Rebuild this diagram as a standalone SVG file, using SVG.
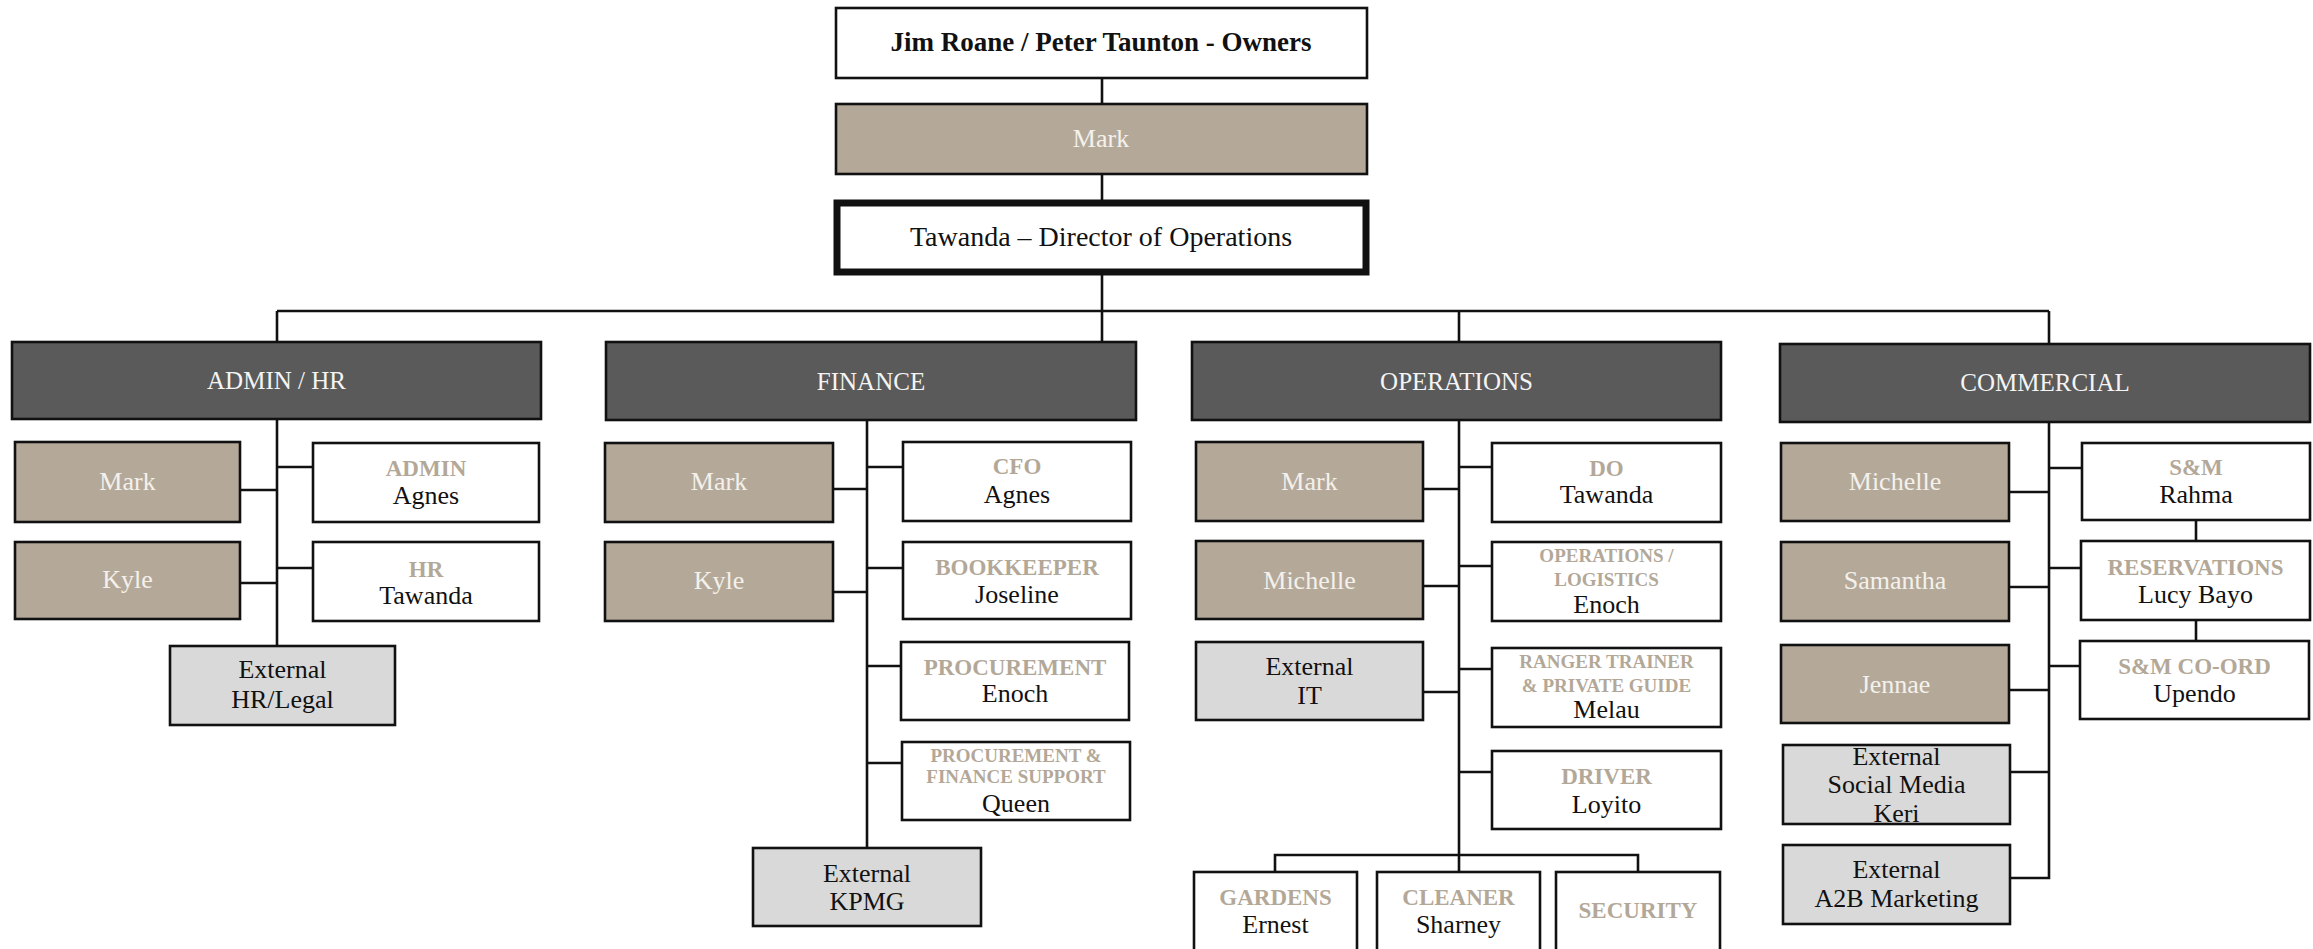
<svg xmlns="http://www.w3.org/2000/svg" width="2313" height="949" viewBox="0 0 2313 949">
<style>
text{font-family:"Liberation Serif","Times New Roman",serif;text-anchor:middle}
.box{stroke:#111;stroke-width:2.6}
.w{fill:#fff}
.tan{fill:#b4a999}
.gry{fill:#d9d9d9}
.hd{fill:#5a5a5a}
.ln{stroke:#111;stroke-width:2.6;fill:none}
.hdt{fill:#f4f4f4;font-size:25px}
.nm{fill:#111;font-size:26px}
.tn{fill:#f4f1ec;font-size:26px}
.tt{fill:#b3a898;font-size:23px;font-weight:bold}
.ts{fill:#b3a898;font-size:19px;font-weight:bold}
</style>
<rect width="2313" height="949" fill="#fff"/>
<g id="connectors" class="ln">
<path d="M1102 78V104M1102 174V203M1102 272V342"/>
<path d="M277 311H2049M277 311V342M1459 311V342M2049 311V344"/>
<path d="M277 419V646M240 490H277M240 583H277M277 467H313M277 568H313"/>
<path d="M867 420V848M833 489H867M833 592H867M867 467H903M867 568H903M867 666H901M867 763H902"/>
<path d="M1459 420V872M1423 489H1459M1423 586H1459M1423 692H1459M1459 467H1492M1459 566H1492M1459 669H1492M1459 772H1492"/>
<path d="M1275 872V855H1638V872"/>
<path d="M2049 422V878H2010M2009 492H2049M2009 587H2049M2009 690H2049M2010 772H2049M2049 468H2082M2049 568H2081M2049 666H2080M2196 520V541M2196 620V641"/>
</g>
<g id="owners"><rect class="box w" x="836" y="8" width="531" height="70"/><text x="1101" y="51" style="font-size:27px;font-weight:bold;fill:#111">Jim Roane / Peter Taunton - Owners</text></g>
<g id="mark-top"><rect class="box tan" x="836" y="104" width="531" height="70"/><text class="tn" x="1101" y="147">Mark</text></g>
<g id="director"><rect x="837" y="203" width="529" height="69" fill="#fff" stroke="#111" stroke-width="7"/><text x="1101" y="246" style="font-size:28px;fill:#111">Tawanda – Director of Operations</text></g>

<g id="admin-hr"><rect class="box hd" x="12" y="342" width="529" height="77"/><text class="hdt" x="276.5" y="389">ADMIN / HR</text></g>
<g id="admin-mark"><rect class="box tan" x="15" y="442" width="225" height="80"/><text class="tn" x="127.5" y="490">Mark</text></g>
<g id="admin-kyle"><rect class="box tan" x="15" y="542" width="225" height="77"/><text class="tn" x="127.5" y="588">Kyle</text></g>
<g id="admin-agnes"><rect class="box w" x="313" y="443" width="226" height="79"/><text class="tt" x="426" y="476">ADMIN</text><text class="nm" x="426" y="504">Agnes</text></g>
<g id="hr-tawanda"><rect class="box w" x="313" y="542" width="226" height="79"/><text class="tt" x="426" y="577">HR</text><text class="nm" x="426" y="604">Tawanda</text></g>
<g id="ext-hr"><rect class="box gry" x="170" y="646" width="225" height="79"/><text class="nm" x="282.5" y="678">External</text><text class="nm" x="282.5" y="708">HR/Legal</text></g>

<g id="finance"><rect class="box hd" x="606" y="342" width="530" height="78"/><text class="hdt" x="871" y="390">FINANCE</text></g>
<g id="fin-mark"><rect class="box tan" x="605" y="443" width="228" height="79"/><text class="tn" x="719" y="490">Mark</text></g>
<g id="fin-kyle"><rect class="box tan" x="605" y="542" width="228" height="79"/><text class="tn" x="719" y="589">Kyle</text></g>
<g id="cfo"><rect class="box w" x="903" y="442" width="228" height="79"/><text class="tt" x="1017" y="474">CFO</text><text class="nm" x="1017" y="503">Agnes</text></g>
<g id="bookkeeper"><rect class="box w" x="903" y="542" width="228" height="77"/><text class="tt" x="1017" y="575">BOOKKEEPER</text><text class="nm" x="1017" y="603">Joseline</text></g>
<g id="procurement"><rect class="box w" x="901" y="642" width="228" height="78"/><text class="tt" x="1015" y="675">PROCUREMENT</text><text class="nm" x="1015" y="702">Enoch</text></g>
<g id="proc-fin"><rect class="box w" x="902" y="742" width="228" height="78"/><text class="ts" x="1016" y="762">PROCUREMENT &amp;</text><text class="ts" x="1016" y="783">FINANCE SUPPORT</text><text class="nm" x="1016" y="812">Queen</text></g>
<g id="ext-kpmg"><rect class="box gry" x="753" y="848" width="228" height="78"/><text class="nm" x="867" y="882">External</text><text class="nm" x="867" y="910">KPMG</text></g>

<g id="operations"><rect class="box hd" x="1192" y="342" width="529" height="78"/><text class="hdt" x="1456.5" y="390">OPERATIONS</text></g>
<g id="ops-mark"><rect class="box tan" x="1196" y="442" width="227" height="79"/><text class="tn" x="1309.5" y="490">Mark</text></g>
<g id="ops-michelle"><rect class="box tan" x="1196" y="541" width="227" height="78"/><text class="tn" x="1309.5" y="589">Michelle</text></g>
<g id="ext-it"><rect class="box gry" x="1196" y="642" width="227" height="78"/><text class="nm" x="1309.5" y="675">External</text><text class="nm" x="1309.5" y="704">IT</text></g>
<g id="do"><rect class="box w" x="1492" y="443" width="229" height="79"/><text class="tt" x="1606.5" y="476">DO</text><text class="nm" x="1606.5" y="503">Tawanda</text></g>
<g id="ops-log"><rect class="box w" x="1492" y="542" width="229" height="79"/><text class="ts" x="1606.5" y="562">OPERATIONS /</text><text class="ts" x="1606.5" y="586">LOGISTICS</text><text class="nm" x="1606.5" y="613">Enoch</text></g>
<g id="ranger"><rect class="box w" x="1492" y="648" width="229" height="79"/><text class="ts" x="1606.5" y="668">RANGER TRAINER</text><text class="ts" x="1606.5" y="692">&amp; PRIVATE GUIDE</text><text class="nm" x="1606.5" y="718">Melau</text></g>
<g id="driver"><rect class="box w" x="1492" y="751" width="229" height="78"/><text class="tt" x="1606.5" y="784">DRIVER</text><text class="nm" x="1606.5" y="813">Loyito</text></g>
<g id="gardens"><rect class="box w" x="1194" y="872" width="163" height="95"/><text class="tt" x="1275.5" y="905">GARDENS</text><text class="nm" x="1275.5" y="933">Ernest</text></g>
<g id="cleaner"><rect class="box w" x="1377" y="872" width="163" height="95"/><text class="tt" x="1458.5" y="905">CLEANER</text><text class="nm" x="1458.5" y="933">Sharney</text></g>
<g id="security"><rect class="box w" x="1556" y="872" width="164" height="95"/><text class="tt" x="1638" y="918">SECURITY</text></g>

<g id="commercial"><rect class="box hd" x="1780" y="344" width="530" height="78"/><text class="hdt" x="2045" y="391">COMMERCIAL</text></g>
<g id="com-michelle"><rect class="box tan" x="1781" y="443" width="228" height="78"/><text class="tn" x="1895" y="490">Michelle</text></g>
<g id="com-samantha"><rect class="box tan" x="1781" y="542" width="228" height="79"/><text class="tn" x="1895" y="589">Samantha</text></g>
<g id="com-jennae"><rect class="box tan" x="1781" y="645" width="228" height="78"/><text class="tn" x="1895" y="693">Jennae</text></g>
<g id="ext-social"><rect class="box gry" x="1783" y="745" width="227" height="79"/><text class="nm" x="1896.5" y="765">External</text><text class="nm" x="1896.5" y="793">Social Media</text><text class="nm" x="1896.5" y="822">Keri</text></g>
<g id="ext-a2b"><rect class="box gry" x="1783" y="845" width="227" height="79"/><text class="nm" x="1896.5" y="878">External</text><text class="nm" x="1896.5" y="907">A2B Marketing</text></g>
<g id="sm-rahma"><rect class="box w" x="2082" y="443" width="228" height="77"/><text class="tt" x="2196" y="475">S&amp;M</text><text class="nm" x="2196" y="503">Rahma</text></g>
<g id="reservations"><rect class="box w" x="2081" y="541" width="229" height="79"/><text class="tt" x="2195.5" y="575">RESERVATIONS</text><text class="nm" x="2195.5" y="603">Lucy Bayo</text></g>
<g id="sm-coord"><rect class="box w" x="2080" y="641" width="229" height="78"/><text class="tt" x="2194.5" y="674">S&amp;M CO-ORD</text><text class="nm" x="2194.5" y="702">Upendo</text></g>
</svg>
